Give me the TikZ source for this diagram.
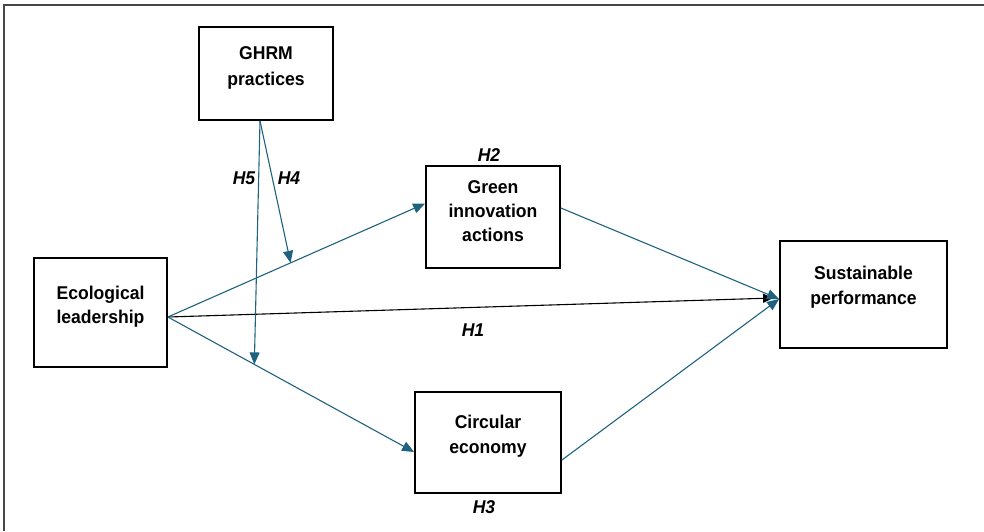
\documentclass[tikz,border=0pt]{standalone}
\usepackage{fontspec}
\setmainfont{Liberation Sans}[FakeStretch=0.95]
\usetikzlibrary{arrows.meta,calc}
\definecolor{tealA}{RGB}{31,98,128}
\definecolor{frameC}{RGB}{70,70,70}
\begin{document}
\begin{tikzpicture}[x=1pt,y=-1pt,
  box/.style={draw=black, line width=1.8pt, rectangle, inner sep=0pt},
  txt/.style={font=\fontsize{18.5}{25}\selectfont\bfseries, align=center, inner sep=0pt},
  hyp/.style={font=\fontsize{18.5}{21}\selectfont\bfseries\itshape, inner sep=0pt},
  tarrow/.style={draw=tealA, line width=1.1pt, -{Triangle[length=12pt,width=10pt]}},
  karrow/.style={draw=black, line width=1.1pt, -{Triangle[length=10pt,width=9pt]}}]
\useasboundingbox (0,0) rectangle (984,531);
\draw[frameC, line width=2pt] (3.5,531) -- (3.5,4.5) -- (984,4.5);

\node[box, minimum width=134pt, minimum height=93pt] (ghrm) at (266,73.5) {};
\node[txt, font=\fontsize{18.5}{26}\selectfont\bfseries] (ghrmt) at (266,68.3) {GHRM\\practices};
\node[box, minimum width=133pt, minimum height=109pt] (eco) at (100.5,312.5) {};
\node[txt, font=\fontsize{18.5}{24}\selectfont\bfseries] (ecot) at (100.5,306.5) {Ecological\\leadership};
\node[box, minimum width=134pt, minimum height=102pt] (gia) at (493,217) {};
\node[txt, font=\fontsize{18.5}{24}\selectfont\bfseries] (giat) at (493,211.5) {Green\\innovation\\actions};
\node[box, minimum width=146pt, minimum height=101pt] (ce) at (488,442.5) {};
\node[txt, font=\fontsize{18.5}{25.5}\selectfont\bfseries] (cet) at (488,436.2) {Circular\\economy};
\node[box, minimum width=167pt, minimum height=107pt] (sp) at (863.5,294.5) {};
\node[txt] (spt) at (863.5,287.7) {Sustainable\\performance};

\coordinate (ecoR) at ([yshift=-4.5pt]eco.east);
\coordinate (giaL) at ([yshift=13.5pt]gia.west);
\coordinate (ceL) at ([yshift=-9.5pt]ce.west);
\coordinate (giaR) at ([yshift=9pt]gia.east);
\coordinate (ceR) at ([yshift=-17.5pt]ce.east);
\coordinate (spL) at ([yshift=-4.5pt]sp.west);
\coordinate (spLk) at ([xshift=-6pt,yshift=-3.5pt]sp.west);
\coordinate (ghB) at ([xshift=-6pt]ghrm.south);
\coordinate (h4t) at ($(ecoR)!0.477!(giaL)$);
\coordinate (h5t) at ($(ecoR)!0.351!(ceL)$);

\draw[karrow] (ecoR) -- (spLk);
\draw[tarrow] (ecoR) -- (giaL);
\draw[tarrow] (ecoR) -- (ceL);
\draw[tarrow] (giaR) -- (spL);
\draw[tarrow] (ceR) -- (spL);
\draw[tarrow] (ghB) -- (h4t);
\draw[tarrow] (ghB) -- (h5t);

\node[hyp] (h2) at (489,155) {H2};
\node[hyp] (h5) at (244,178) {H5};
\node[hyp] (h4) at (289,178) {H4};
\node[hyp] (h1) at (473,330) {H1};
\node[hyp] (h3) at (484,507) {H3};
\end{tikzpicture}
\end{document}
